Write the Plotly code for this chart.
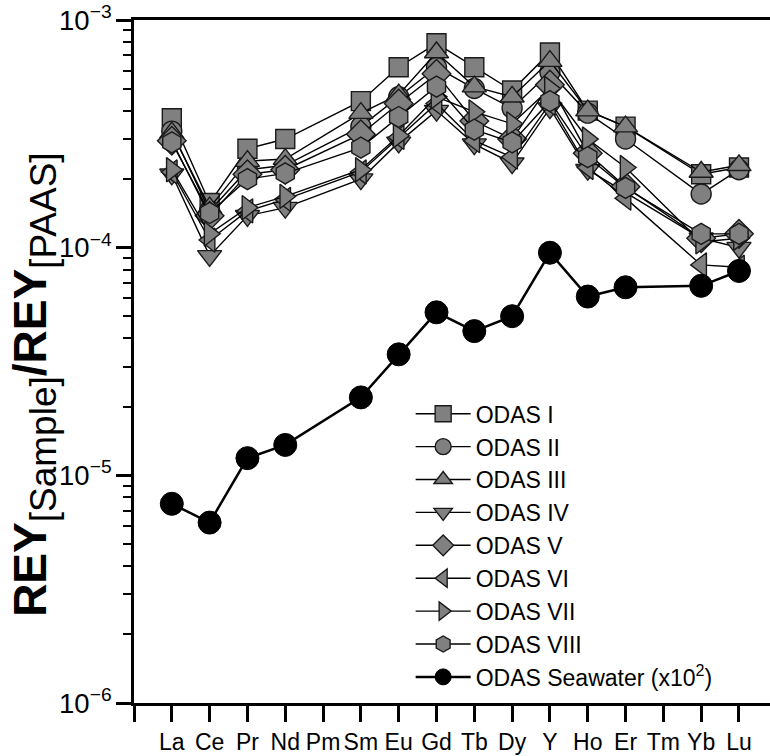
import plotly.graph_objects as go

elements = ["La", "Ce", "Pr", "Nd", "Pm", "Sm", "Eu", "Gd", "Tb", "Dy", "Y", "Ho", "Er", "Tm", "Yb", "Lu"]
x_pos = list(range(1, 17))

odas_1 = [3.7e-4, 1.57e-4, 2.72e-4, 3.0e-4, None, 4.4e-4, 6.2e-4, 7.9e-4, 6.2e-4, 4.9e-4, 7.2e-4, 4.0e-4, 3.4e-4, None, 2.1e-4, 2.25e-4]
odas_2 = [3.25e-4, 1.45e-4, 2.2e-4, 2.3e-4, None, 3.4e-4, 4.6e-4, 6.2e-4, 5.0e-4, 4.1e-4, 5.9e-4, 3.9e-4, 3.0e-4, None, 1.72e-4, 2.2e-4]
odas_3 = [3.2e-4, 1.5e-4, 2.4e-4, 2.45e-4, None, 3.9e-4, 4.7e-4, 7.2e-4, 5.1e-4, 4.6e-4, 6.6e-4, 4.0e-4, 3.4e-4, None, 2.15e-4, 2.3e-4]
odas_4 = [2.1e-4, 9.2e-5, 1.38e-4, 1.5e-4, None, 2.0e-4, 2.9e-4, 4.0e-4, 2.85e-4, 2.35e-4, 4.1e-4, 2.2e-4, 1.75e-4, None, 1.1e-4, 1.0e-4]
odas_5 = [2.95e-4, 1.38e-4, 2.1e-4, 2.2e-4, None, 3.15e-4, 4.3e-4, 5.8e-4, 3.6e-4, 3.0e-4, 5.2e-4, 2.6e-4, 1.85e-4, None, 1.1e-4, 1.15e-4]
odas_6 = [2.15e-4, 1.08e-4, 1.45e-4, 1.63e-4, None, 2.15e-4, 3.05e-4, 4.3e-4, 2.95e-4, 2.5e-4, 4.3e-4, 2.25e-4, 1.65e-4, None, 8.4e-5, 8.2e-5]
odas_7 = [2.2e-4, 1.15e-4, 1.5e-4, 1.68e-4, None, 2.2e-4, 3.1e-4, 4.6e-4, 3.95e-4, 3.5e-4, 5.0e-4, 3.0e-4, 2.25e-4, None, 1.06e-4, 1.1e-4]
odas_8 = [2.9e-4, 1.42e-4, 2.0e-4, 2.12e-4, None, 2.75e-4, 3.75e-4, 5.1e-4, 3.3e-4, 2.9e-4, 4.4e-4, 2.5e-4, 1.83e-4, None, 1.15e-4, 1.15e-4]
seawater = [7.5e-6, 6.2e-6, 1.19e-5, 1.36e-5, None, 2.2e-5, 3.4e-5, 5.2e-5, 4.3e-5, 5.0e-5, 9.5e-5, 6.1e-5, 6.7e-5, None, 6.8e-5, 7.9e-5]

series_names = ["ODAS I", "ODAS II", "ODAS III", "ODAS IV", "ODAS V", "ODAS VI", "ODAS VII", "ODAS VIII"]
series_values = [odas_1, odas_2, odas_3, odas_4, odas_5, odas_6, odas_7, odas_8]
series_symbols = ["square", "circle", "triangle-up", "triangle-down", "diamond", "triangle-left", "triangle-right", "hexagon"]
series_sizes = [19, 20, 21, 21, 22, 21, 21, 21]

tick_vals = [0] + x_pos
tick_text = [""] + elements

FONT = "Liberation Sans, Arial, sans-serif"

fig = go.Figure()
for name, vals, sym, sz in zip(series_names, series_values, series_symbols, series_sizes):
    fig.add_trace(go.Scatter(
        x=x_pos, y=vals, name=name, mode="lines+markers", connectgaps=True,
        line=dict(color="black", width=1.4),
        marker=dict(symbol=sym, size=sz, color="#808080", line=dict(color="#1a1a1a", width=1.4)),
    ))

fig.add_trace(go.Scatter(
    x=x_pos, y=seawater, name="ODAS Seawater (x10<sup>2</sup>)", mode="lines+markers", connectgaps=True,
    line=dict(color="black", width=2.5),
    marker=dict(symbol="circle", size=23, color="black", line=dict(color="black", width=1)),
))

y_title = ("<b>REY</b><sub><span style='font-size:37px'>[Sample]</span></sub>"
           "<b>/REY</b><sub><span style='font-size:37px'>[PAAS]</span></sub>")

fig.update_layout(
    width=770, height=756,
    margin=dict(l=134, r=0, t=20, b=53),
    paper_bgcolor="white", plot_bgcolor="white",
    font=dict(family=FONT, color="black"),
    showlegend=True,
    legend=dict(
        x=0.435, y=0.455, xanchor="left", yanchor="top",
        bgcolor="rgba(0,0,0,0)", font=dict(size=23, family=FONT),
        itemwidth=55, tracegroupgap=0, itemsizing="trace",
    ),
    xaxis=dict(
        range=[0, 16.82], tickmode="array", tickvals=tick_vals, ticktext=tick_text,
        tickangle=0, automargin=False,
        showgrid=False, zeroline=False, showline=True, linecolor="black", linewidth=3,
        mirror=True, ticks="outside", ticklen=16, tickwidth=2.5, tickcolor="black",
        tickfont=dict(size=23, family=FONT),
    ),
    yaxis=dict(
        type="log", range=[-6, -3], dtick=1, exponentformat="power", automargin=False,
        showgrid=False, zeroline=False, showline=True, linecolor="black", linewidth=3,
        ticks="outside", ticklen=15, tickwidth=2.5, tickcolor="black",
        tickfont=dict(size=22, family=FONT),
        minor=dict(ticks="outside", ticklen=8, tickwidth=2, tickcolor="black", showgrid=False),
    ),
    annotations=[dict(
        text=y_title, textangle=-90, xref="paper", yref="paper",
        x=-0.157, y=0.466, xanchor="center", yanchor="middle", showarrow=False,
        font=dict(size=46, family=FONT, color="black"),
    )],
)

fig.write_html("out.html")
